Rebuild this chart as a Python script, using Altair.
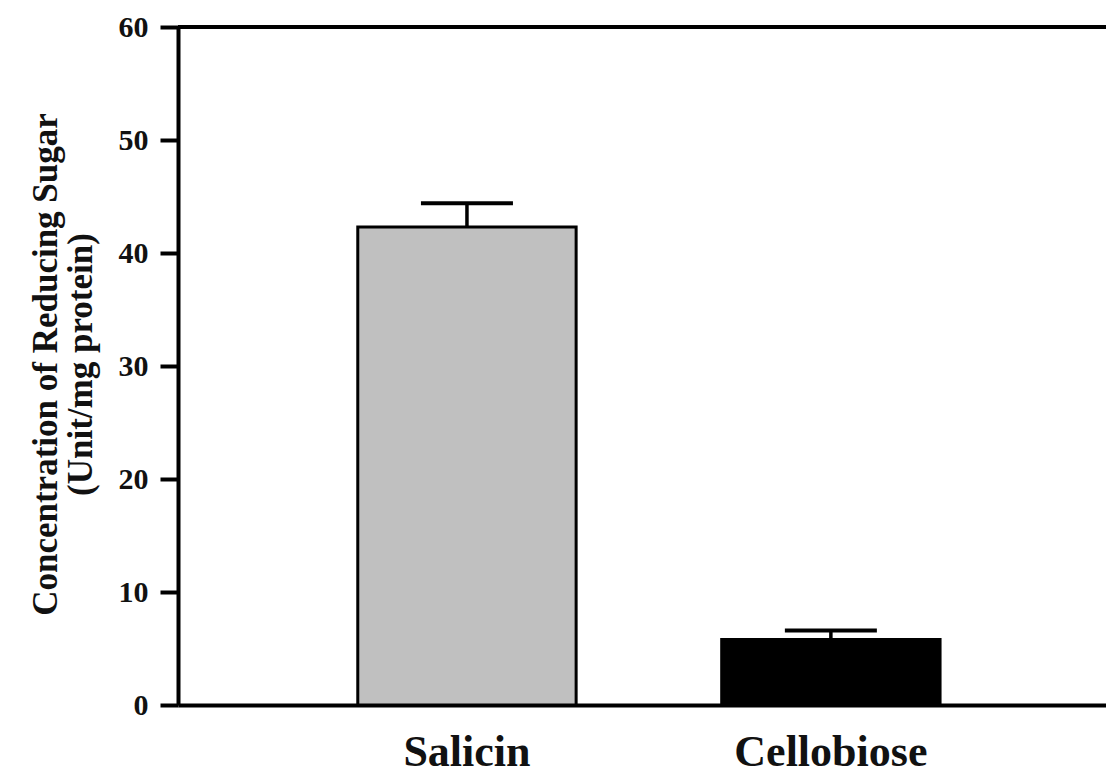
import altair as alt
import pandas as pd

categories = ["Salicin", "Cellobiose"]
values = [42.3, 5.8]
errors = [2.1, 0.8]
fills = ["#C0C0C0", "#000000"]
y_ticks = [0, 10, 20, 30, 40, 50, 60]

df = pd.DataFrame({
    "cat": categories,
    "val": values,
    "upper": [v + e for v, e in zip(values, errors)],
})

FONT = "Liberation Serif"

xscale = alt.Scale(domain=categories, paddingInner=0.4, paddingOuter=0.475, align=0.52)
yscale = alt.Scale(domain=[0, 60], nice=False)

x = alt.X("cat:N", scale=xscale, sort=categories,
          axis=alt.Axis(title=None, labelAngle=0, ticks=False, domainWidth=4, domainColor="black",
                        labelFont=FONT, labelFontWeight="bold", labelFontSize=44,
                        labelColor="#111", labelPadding=25, labelLimit=500))
y = alt.Y("val:Q", scale=yscale,
          axis=alt.Axis(values=y_ticks, grid=False, tickSize=18, tickWidth=4, tickColor="black",
                        domainWidth=4, domainColor="black",
                        labelFont=FONT, labelFontWeight="bold", labelFontSize=30,
                        labelColor="#111", labelPadding=12,
                        title=["Concentration of Reducing Sugar", "(Unit/mg protein)"],
                        titleFont=FONT, titleFontWeight="bold", titleFontSize=35,
                        titleLineHeight=35, titleColor="#111", titlePadding=20,
                        titleY=337))

bars = alt.Chart(df).mark_bar(stroke="black", strokeWidth=3, opacity=1).encode(
    x=x, y=y,
    color=alt.Color("cat:N", scale=alt.Scale(domain=categories, range=fills), legend=None),
)

err_rule = alt.Chart(df).mark_rule(color="black", strokeWidth=3.5, opacity=1).encode(
    x=alt.X("cat:N", scale=xscale, sort=categories),
    y=alt.Y("val:Q", scale=yscale),
    y2="upper:Q",
)

err_cap = alt.Chart(df).mark_tick(color="black", thickness=4, size=92, opacity=1).encode(
    x=alt.X("cat:N", scale=xscale, sort=categories),
    y=alt.Y("upper:Q", scale=yscale),
)

top_line = alt.Chart(df).mark_rule(color="black", strokeWidth=4, opacity=1).encode(
    y=alt.datum(60, scale=yscale),
)

chart = alt.layer(bars, err_rule, err_cap, top_line).properties(
    width=928, height=678,
    autosize=alt.AutoSizeParams(type="none"),
    padding={"left": 170, "top": 19, "right": 0, "bottom": 73},
).configure_view(stroke=None).configure(background="white")

chart.save("out.html", embed_options={"renderer": "svg", "actions": False})
